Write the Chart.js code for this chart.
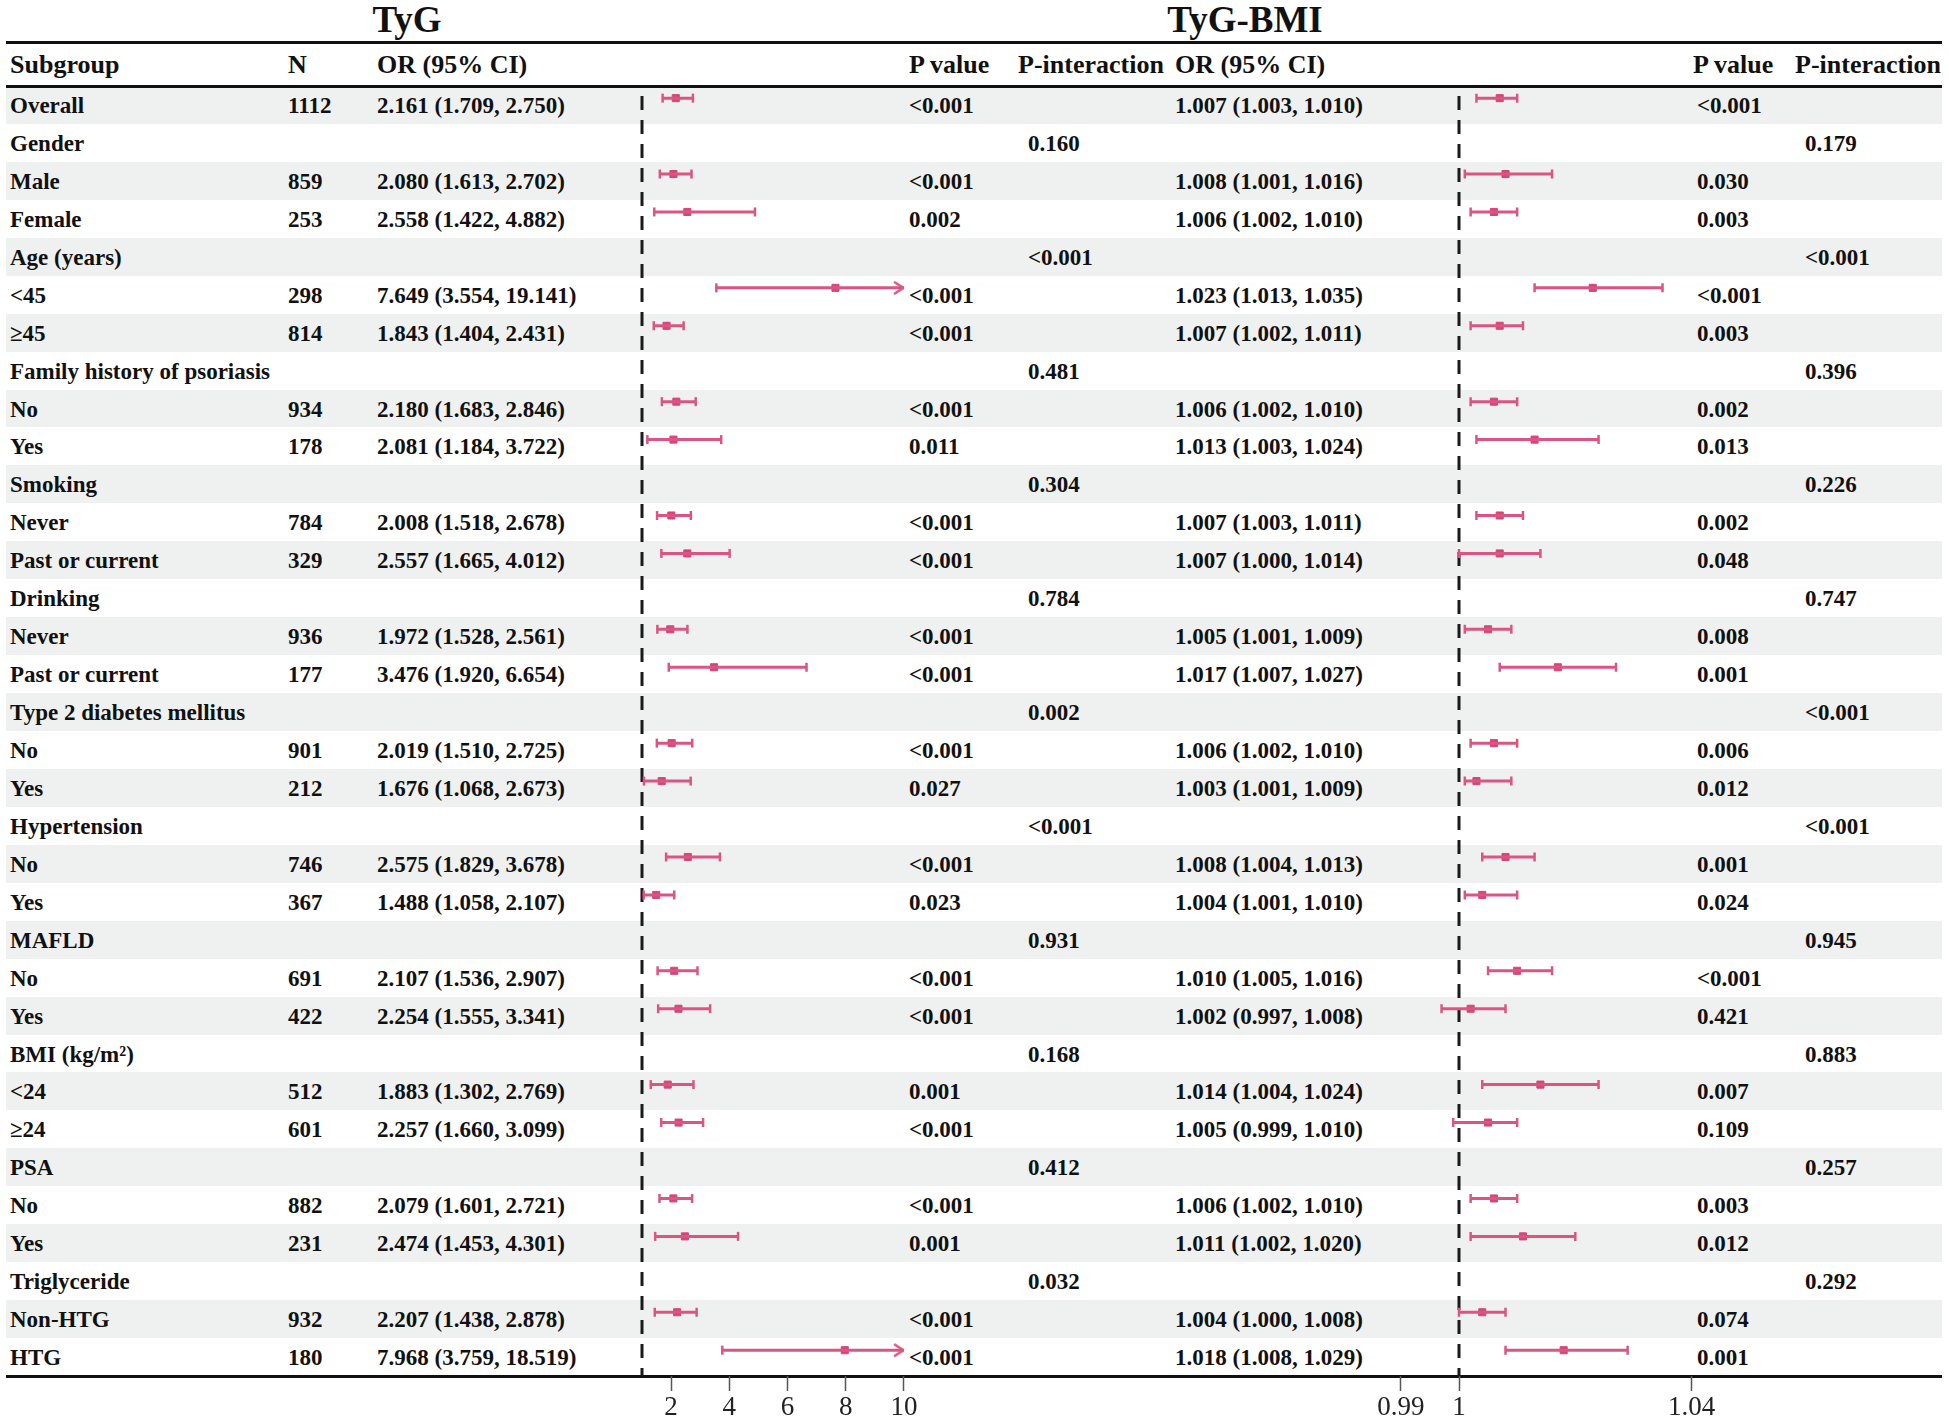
<!DOCTYPE html>
<html>
<head>
<meta charset="utf-8">
<title>TyG / TyG-BMI subgroup forest plot</title>
<script src="https://cdn.jsdelivr.net/npm/chart.js@4.4.1/dist/chart.umd.min.js"></script>
<style>
  html, body { margin: 0; padding: 0; background: #fff; }
  #page { position: relative; width: 1949px; height: 1425px; overflow: hidden;
          font-family: "Liberation Serif", "Times New Roman", serif; font-weight: bold; color: #111; }
  .title { position: absolute; top: 0; width: 400px; text-align: center; font-size: 37px; line-height: 40px; }
  .rule { position: absolute; left: 6px; width: 1936px; height: 3px; background: #111; }
  .band { position: absolute; left: 6px; width: 1936px; background: #eef1f0; }
  .cell { position: absolute; font-size: 23px; white-space: nowrap; }
  .head { position: absolute; font-size: 26px; white-space: nowrap; }
  canvas { position: absolute; top: 0; }
</style>
</head>
<body>
<div id="page">
  <div class="title" style="left:207px">TyG</div>
  <div class="title" style="left:1045px">TyG-BMI</div>
  <div id="rows"></div>
  <div class="rule" style="top:41px"></div>
  <div class="rule" style="top:85px"></div>
  <div class="rule" style="top:1374.5px"></div>
  <canvas id="tyg-chart" width="350" height="1460" style="left:600px"></canvas>
  <canvas id="bmi-chart" width="380" height="1460" style="left:1360px"></canvas>
</div>
<script>
'use strict'

// table rows, top to bottom
const subgroups = ["Overall", "Gender", "Male", "Female", "Age (years)", "<45", "≥45",
  "Family history of psoriasis", "No", "Yes", "Smoking", "Never", "Past or current",
  "Drinking", "Never", "Past or current", "Type 2 diabetes mellitus", "No", "Yes",
  "Hypertension", "No", "Yes", "MAFLD", "No", "Yes", "BMI (kg/m²)", "<24", "≥24",
  "PSA", "No", "Yes", "Triglyceride", "Non-HTG", "HTG"];
const nCount = [1112, null, 859, 253, null, 298, 814, null, 934, 178, null, 784, 329,
  null, 936, 177, null, 901, 212, null, 746, 367, null, 691, 422, null, 512, 601,
  null, 882, 231, null, 932, 180];

// TyG
const tygOR = [2.161, null, 2.080, 2.558, null, 7.649, 1.843, null, 2.180, 2.081, null, 2.008, 2.557,
  null, 1.972, 3.476, null, 2.019, 1.676, null, 2.575, 1.488, null, 2.107, 2.254, null, 1.883, 2.257,
  null, 2.079, 2.474, null, 2.207, 7.968];
const tygLow = [1.709, null, 1.613, 1.422, null, 3.554, 1.404, null, 1.683, 1.184, null, 1.518, 1.665,
  null, 1.528, 1.920, null, 1.510, 1.068, null, 1.829, 1.058, null, 1.536, 1.555, null, 1.302, 1.660,
  null, 1.601, 1.453, null, 1.438, 3.759];
const tygHigh = [2.750, null, 2.702, 4.882, null, 19.141, 2.431, null, 2.846, 3.722, null, 2.678, 4.012,
  null, 2.561, 6.654, null, 2.725, 2.673, null, 3.678, 2.107, null, 2.907, 3.341, null, 2.769, 3.099,
  null, 2.721, 4.301, null, 2.878, 18.519];
const tygP = ["<0.001", "", "<0.001", "0.002", "", "<0.001", "<0.001", "", "<0.001", "0.011", "",
  "<0.001", "<0.001", "", "<0.001", "<0.001", "", "<0.001", "0.027", "", "<0.001", "0.023", "",
  "<0.001", "<0.001", "", "0.001", "<0.001", "", "<0.001", "0.001", "", "<0.001", "<0.001"];
const tygPint = ["", "0.160", "", "", "<0.001", "", "", "0.481", "", "", "0.304", "", "", "0.784", "", "",
  "0.002", "", "", "<0.001", "", "", "0.931", "", "", "0.168", "", "", "0.412", "", "", "0.032", "", ""];

// TyG-BMI
const bmiOR = [1.007, null, 1.008, 1.006, null, 1.023, 1.007, null, 1.006, 1.013, null, 1.007, 1.007,
  null, 1.005, 1.017, null, 1.006, 1.003, null, 1.008, 1.004, null, 1.010, 1.002, null, 1.014, 1.005,
  null, 1.006, 1.011, null, 1.004, 1.018];
const bmiLow = [1.003, null, 1.001, 1.002, null, 1.013, 1.002, null, 1.002, 1.003, null, 1.003, 1.000,
  null, 1.001, 1.007, null, 1.002, 1.001, null, 1.004, 1.001, null, 1.005, 0.997, null, 1.004, 0.999,
  null, 1.002, 1.002, null, 1.000, 1.008];
const bmiHigh = [1.010, null, 1.016, 1.010, null, 1.035, 1.011, null, 1.010, 1.024, null, 1.011, 1.014,
  null, 1.009, 1.027, null, 1.010, 1.009, null, 1.013, 1.010, null, 1.016, 1.008, null, 1.024, 1.010,
  null, 1.010, 1.020, null, 1.008, 1.029];
const bmiP = ["<0.001", "", "0.030", "0.003", "", "<0.001", "0.003", "", "0.002", "0.013", "",
  "0.002", "0.048", "", "0.008", "0.001", "", "0.006", "0.012", "", "0.001", "0.024", "",
  "<0.001", "0.421", "", "0.007", "0.109", "", "0.003", "0.012", "", "0.074", "0.001"];
const bmiPint = ["", "0.179", "", "", "<0.001", "", "", "0.396", "", "", "0.226", "", "", "0.747", "", "",
  "<0.001", "", "", "<0.001", "", "", "0.945", "", "", "0.883", "", "", "0.257", "", "", "0.292", "", ""];

// x axes
const tygTicks = [2, 4, 6, 8, 10];
const bmiTicks = [0.99, 1, 1.04];

// ---- table ----
const rowTop = 86;
const rowH = 1290 / subgroups.length;
const ci = (e, l, h) => e === null ? "" : e.toFixed(3) + " (" + l.toFixed(3) + ", " + h.toFixed(3) + ")";

const columns = [
  { x: 10, head: "Subgroup", cell: i => subgroups[i] },
  { x: 288, head: "N", cell: i => nCount[i] === null ? "" : String(nCount[i]) },
  { x: 377, head: "OR (95% CI)", cell: i => ci(tygOR[i], tygLow[i], tygHigh[i]) },
  { x: 909, head: "P value", cell: i => tygP[i] },
  { x: 1018, dx: 10, head: "P-interaction", cell: i => tygPint[i] },
  { x: 1175, head: "OR (95% CI)", cell: i => ci(bmiOR[i], bmiLow[i], bmiHigh[i]) },
  { x: 1693, dx: 4, head: "P value", cell: i => bmiP[i] },
  { x: 1795, dx: 10, head: "P-interaction", cell: i => bmiPint[i] },
];

const rowsEl = document.getElementById("rows");
function addDiv(cls, css, text) {
  const d = document.createElement("div");
  d.className = cls;
  d.style.cssText = css;
  if (text) d.textContent = text;
  rowsEl.appendChild(d);
}

subgroups.forEach((s, i) => {
  if (i % 2 === 0) addDiv("band", `top:${rowTop + i * rowH}px;height:${rowH}px`);
});
columns.forEach(c => {
  addDiv("head", `left:${c.x}px;top:43.5px;line-height:42px`, c.head);
  subgroups.forEach((s, i) => {
    const t = c.cell(i);
    if (t) addDiv("cell", `left:${c.x + (c.dx || 0)}px;top:${rowTop + i * rowH + 1}px;line-height:${rowH}px`, t);
  });
});

// ---- forest panels ----
const ciColor = "#dc5580";
const markColor = "#d2477a";
const markShift = 0.18; // squares sit a little above the text line

// open arrow head for intervals running past the axis end
const arrowHead = document.createElement("canvas");
arrowHead.width = 24;
arrowHead.height = 16;
(function () {
  const c = arrowHead.getContext("2d");
  c.strokeStyle = ciColor;
  c.lineWidth = 2.6;
  c.lineCap = "round";
  c.lineJoin = "round";
  c.beginPath();
  c.moveTo(3, 2.5);
  c.lineTo(11.5, 8);
  c.lineTo(3, 13.5);
  c.stroke();
})();

const refLine = {
  id: "refLine",
  beforeDatasetsDraw(chart) {
    const { ctx, chartArea, scales } = chart;
    const x = scales.x.getPixelForValue(1);
    ctx.save();
    ctx.strokeStyle = "#1a1a1a";
    ctx.lineWidth = 3;
    ctx.setLineDash([14, 10]);
    ctx.lineDashOffset = 14;
    ctx.beginPath();
    ctx.moveTo(x, chartArea.top);
    ctx.lineTo(x, chartArea.bottom);
    ctx.stroke();
    ctx.restore();
  },
};

function forest(id, est, low, high, ticks, xMin, xMax, padding) {
  const lines = [], caps = [], arrows = [], marks = [];
  est.forEach((v, i) => {
    if (v === null) return;
    lines.push({ x: low[i], y: i }, { x: Math.min(high[i], xMax), y: i }, { x: null, y: null });
    caps.push({ x: low[i], y: i });
    if (high[i] > xMax) arrows.push({ x: xMax, y: i });
    else caps.push({ x: high[i], y: i });
    marks.push({ x: v, y: i });
  });

  new Chart(document.getElementById(id).getContext("2d"), {
    type: "scatter",
    data: {
      datasets: [
        { data: lines, showLine: true, spanGaps: false, borderColor: ciColor, borderWidth: 3,
          borderCapStyle: "butt", pointRadius: 0 },
        { data: caps, pointStyle: "line", rotation: 90, pointRadius: 4.5,
          borderColor: ciColor, borderWidth: 2.5 },
        { data: arrows, pointStyle: arrowHead },
        { data: marks, pointStyle: "rect", pointRadius: 5, backgroundColor: markColor,
          borderColor: markColor, borderWidth: 1 },
      ],
    },
    options: {
      responsive: false,
      animation: false,
      events: [],
      layout: { padding },
      plugins: { legend: { display: false }, tooltip: { enabled: false } },
      scales: {
        x: {
          type: "linear",
          min: xMin,
          max: xMax,
          afterBuildTicks: axis => { axis.ticks = ticks.map(v => ({ value: v })); },
          border: { display: false },
          grid: { drawOnChartArea: false, drawTicks: true, tickLength: 15, tickWidth: 1.5, tickColor: "#555" },
          ticks: {
            callback: v => String(v),
            autoSkip: false,
            maxRotation: 0,
            padding: 1,
            color: "#222",
            font: { family: "Liberation Serif", size: 27, weight: "normal" },
          },
        },
        y: {
          type: "linear",
          reverse: true,
          display: false,
          min: -0.5 + markShift,
          max: subgroups.length - 0.5 + markShift,
        },
      },
    },
    plugins: [refLine],
  });
}

forest("tyg-chart", tygOR, tygLow, tygHigh, tygTicks, 1, 10,
  { left: 42, right: 46.1, top: 86, bottom: 34.6 });
forest("bmi-chart", bmiOR, bmiLow, bmiHigh, bmiTicks, 0.99, 1.04,
  { left: 40.85, right: 48.4, top: 86, bottom: 34.6 });
</script>
</body>
</html>
